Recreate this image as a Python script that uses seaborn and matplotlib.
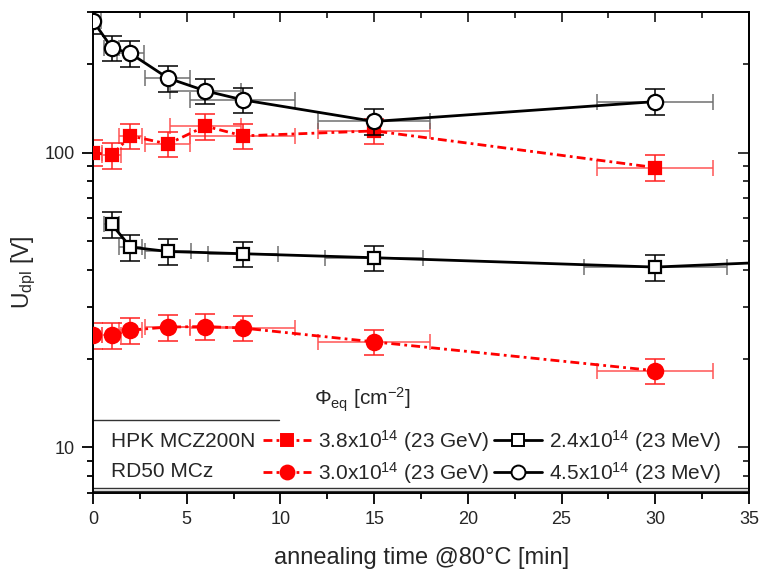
import matplotlib
matplotlib.use("Agg")
import matplotlib.pyplot as plt
import seaborn as sns
from matplotlib.lines import Line2D
from matplotlib.ticker import MultipleLocator, LogLocator, NullFormatter, FuncFormatter

# ---------------- data ----------------
# HPK MCZ200N, 3.8e14 (23 GeV)  -> filled red squares
t_hpk_gev = [0, 1, 2, 4, 6, 8, 15, 30]
u_hpk_gev = [100, 98, 114, 107, 123, 114, 118.5, 89]
xerr_hpk_gev = [0.5, 0.5, 0.6, 1.2, 1.9, 2.8, 3.0, 3.1]
yerr_hpk_gev = [10, 9.8, 11.4, 10.7, 12.3, 11.4, 11.9, 8.9]

# RD50 MCz, 3.0e14 (23 GeV) -> filled red circles
t_rd50_gev = [0, 1, 2, 4, 6, 8, 15, 30]
u_rd50_gev = [24.0, 24.0, 25.0, 25.6, 25.7, 25.4, 22.8, 18.2]
xerr_rd50_gev = [0.5, 0.5, 0.6, 1.2, 1.9, 2.8, 3.0, 3.1]
yerr_rd50_gev = [2.4, 2.4, 2.5, 2.6, 2.6, 2.5, 2.3, 1.8]

# HPK MCZ200N, 2.4e14 (23 MeV) -> open squares
t_hpk_mev = [1, 2, 4, 8, 15, 30, 60]
u_hpk_mev = [57.1, 47.8, 46.2, 45.4, 44.0, 40.9, 49.4]
xerr_hpk_mev = [0.4, 0.63, 1.25, 1.87, 2.6, 3.8, 5.0]
yerr_hpk_mev = [5.7, 4.8, 4.6, 4.5, 4.4, 4.1, 4.9]

# RD50 MCz, 4.5e14 (23 MeV) -> open circles
t_rd50_mev = [0, 1, 2, 4, 6, 8, 15, 30]
u_rd50_mev = [280, 227, 217, 179, 162, 151, 127.6, 149]
xerr_rd50_mev = [0.4, 0.4, 0.7, 1.2, 1.9, 2.8, 3.0, 3.1]
yerr_rd50_mev = [28, 22.7, 21.7, 17.9, 16.2, 15.1, 12.8, 14.9]

labels = [
    "3.8x10$^{14}$ (23 GeV)",
    "3.0x10$^{14}$ (23 GeV)",
    "2.4x10$^{14}$ (23 MeV)",
    "4.5x10$^{14}$ (23 MeV)",
]
row_labels = ["HPK MCZ200N", "RD50 MCz"]
xticks_major = 5
xticks_minor = 2.5
ylims = (7, 300)
xlims = (0, 35)

# ---------------- style ----------------
sns.set_style("ticks")
plt.rcParams["font.family"] = ["Liberation Sans", "DejaVu Sans"]
plt.rcParams["mathtext.fontset"] = "custom"
plt.rcParams["mathtext.rm"] = "Liberation Sans"
plt.rcParams["mathtext.it"] = "Liberation Sans:italic"
plt.rcParams["mathtext.bf"] = "Liberation Sans:bold"

fig = plt.figure(figsize=(7.63, 5.73), dpi=100)
ax = fig.add_axes([0.1219, 0.1396, 0.8598, 0.8394])

dashdot = (0, (3.2, 1.5, 1.0, 1.5))
series = [
    dict(t=t_hpk_gev, u=u_hpk_gev, xe=xerr_hpk_gev, ye=yerr_hpk_gev, marker="s", ms=9,
         mfc="red", mec="red", color="red", ls=dashdot, xcol="#ff5555", ycol="#ff2020", z=3),
    dict(t=t_rd50_gev, u=u_rd50_gev, xe=xerr_rd50_gev, ye=yerr_rd50_gev, marker="o", ms=11,
         mfc="red", mec="red", color="red", ls=dashdot, xcol="#ff5555", ycol="#ff2020", z=3),
    dict(t=t_hpk_mev, u=u_hpk_mev, xe=xerr_hpk_mev, ye=yerr_hpk_mev, marker="s", ms=9,
         mfc="white", mec="black", color="black", ls="-", xcol="#707070", ycol="black", z=5),
    dict(t=t_rd50_mev, u=u_rd50_mev, xe=xerr_rd50_mev, ye=yerr_rd50_mev, marker="o", ms=11,
         mfc="white", mec="black", color="black", ls="-", xcol="#707070", ycol="black", z=5),
]

handles = []
for s in series:
    ax.errorbar(s["t"], s["u"], xerr=s["xe"], fmt="none", ecolor=s["xcol"], elinewidth=1.1,
                capsize=6, capthick=1.1, zorder=s["z"] - 1)
    ax.errorbar(s["t"], s["u"], yerr=s["ye"], fmt="none", ecolor=s["ycol"], elinewidth=1.1,
                capsize=7, capthick=1.1, zorder=s["z"] - 1)
    sns.lineplot(x=s["t"], y=s["u"], ax=ax, color=s["color"], marker=s["marker"],
                 markersize=s["ms"], markerfacecolor=s["mfc"], markeredgecolor=s["mec"],
                 markeredgewidth=1.6, linewidth=2.0, linestyle=s["ls"], zorder=s["z"],
                 legend=False, sort=True)
    handles.append(Line2D([], [], color=s["color"], marker=s["marker"], markersize=s["ms"] - 1,
                          markerfacecolor=s["mfc"], markeredgecolor=s["mec"],
                          markeredgewidth=1.4, linewidth=2.0, linestyle=s["ls"]))

ax.set_xlim(*xlims)
ax.set_yscale("log")
ax.set_ylim(*ylims)

ax.xaxis.set_major_locator(MultipleLocator(xticks_major))
ax.xaxis.set_minor_locator(MultipleLocator(xticks_minor))
ax.yaxis.set_major_locator(LogLocator(base=10))
ax.yaxis.set_minor_locator(LogLocator(base=10, subs=range(2, 10)))
ax.yaxis.set_major_formatter(FuncFormatter(lambda v, _: f"{v:g}"))
ax.yaxis.set_minor_formatter(NullFormatter())

ax.tick_params(axis="both", which="major", direction="out", length=8, width=1.3,
               labelsize=13, color="black", pad=5, top=False, right=False)
ax.tick_params(axis="both", which="minor", direction="out", length=4.5, width=1.3,
               color="black", top=False, right=False)
for sp in ax.spines.values():
    sp.set_linewidth(1.4)
    sp.set_color("black")
    sp.set_visible(True)

sec_x = ax.secondary_xaxis("top")
sec_x.xaxis.set_major_locator(MultipleLocator(xticks_major))
sec_x.xaxis.set_minor_locator(MultipleLocator(xticks_minor))
sec_x.tick_params(which="major", direction="in", length=7, width=1.3, labeltop=False)
sec_x.tick_params(which="minor", direction="in", length=4, width=1.3)
sec_x.spines["top"].set_linewidth(1.4)

sec_y = ax.secondary_yaxis("right")
sec_y.yaxis.set_major_locator(LogLocator(base=10))
sec_y.yaxis.set_minor_locator(LogLocator(base=10, subs=range(2, 10)))
sec_y.yaxis.set_minor_formatter(NullFormatter())
sec_y.tick_params(which="major", direction="in", length=8, width=1.3, labelright=False)
sec_y.tick_params(which="minor", direction="in", length=4.5, width=1.3)
sec_y.spines["right"].set_linewidth(1.4)

ax.set_xlabel("annealing time @80°C [min]", fontsize=17)
ax.xaxis.set_label_coords(0.5015, -0.112)
ax.set_ylabel("U$_{\\mathrm{dpl}}$ [V]", fontsize=16.5)
ax.yaxis.set_label_coords(-0.084, 0.458)

# legend block
ax.text(0.411, 0.181, "Φ$_{\\mathrm{eq}}$ [cm$^{-2}$]", transform=ax.transAxes,
        ha="center", va="baseline", fontsize=15)
ax.add_line(Line2D([0, 0.2835], [0.1518, 0.1518], transform=ax.transAxes,
                   color="#333333", lw=1.0))
ax.add_line(Line2D([0, 1], [0.0104, 0.0104], transform=ax.transAxes, color="#333333", lw=1.0))
ax.add_line(Line2D([0, 1], [0.0048, 0.0048], transform=ax.transAxes, color="#333333", lw=1.0))
ax.text(0.027, 0.108, row_labels[0], transform=ax.transAxes, ha="left", va="center", fontsize=15)
ax.text(0.027, 0.0443, row_labels[1], transform=ax.transAxes, ha="left", va="center", fontsize=15)

ax.legend(handles=handles, labels=labels, ncol=2, frameon=False, loc="center left",
          bbox_to_anchor=(0.2587, 0.0755), borderpad=0, borderaxespad=0, handlelength=2.3,
          handletextpad=0.35, columnspacing=0.25, labelspacing=0.3, fontsize=15, numpoints=1)

fig.savefig("out.png", dpi=100)
